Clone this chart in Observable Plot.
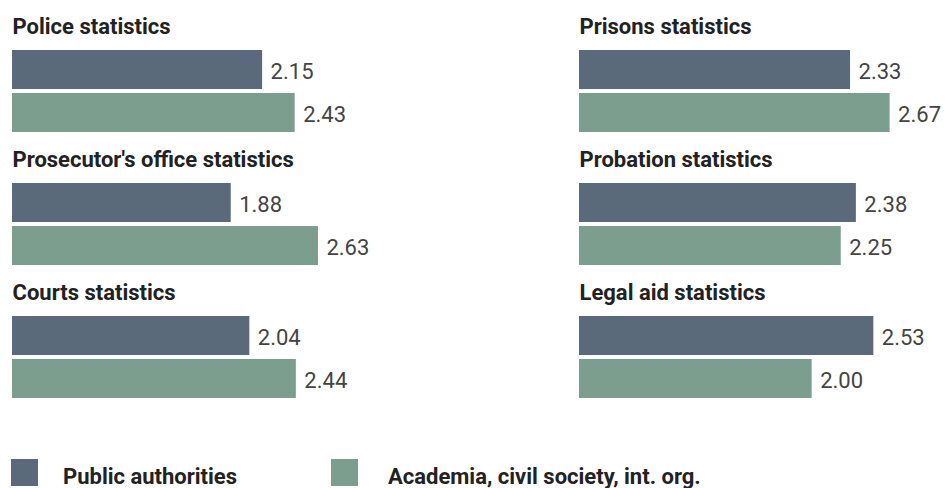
<!DOCTYPE html>
<html>
<head>
<meta charset="utf-8">
<script src="https://cdn.jsdelivr.net/npm/d3@7"></script>
<script src="https://cdn.jsdelivr.net/npm/@observablehq/plot@0.6"></script>
<style>
  html, body { margin: 0; padding: 0; background: #fff; overflow: hidden; }
  body { font-family: Roboto, "Noto Sans", sans-serif; }
  #legend { position: relative; height: 40px; margin-top: 59px; }
  .sw { position: absolute; top: 0; width: 27px; height: 27px; display: block; }
  .lab { position: absolute; top: 7px; font-weight: 700; font-size: 22px; line-height: 22px; color: #222; white-space: nowrap; }
</style>
</head>
<body>
<div id="chart"></div>
<div id="legend"></div>
<script>
const categories = ["Police statistics", "Prisons statistics", "Prosecutor's office statistics", "Probation statistics", "Courts statistics", "Legal aid statistics"];
const seriesNames = ["Public authorities", "Academia, civil society, int. org."];
const publicAuthorities = [2.15, 2.33, 1.88, 2.38, 2.04, 2.53];
const academia = [2.43, 2.67, 2.63, 2.25, 2.44, 2.00];
const colors = ["#5a6a7a", "#7b9e8f"];

const data = [];
categories.forEach((c, i) => {
  const col = i % 2, row = Math.floor(i / 2);
  data.push({cat: c, col, row, series: seriesNames[0], value: publicAuthorities[i]});
  data.push({cat: c, col, row, series: seriesNames[1], value: academia[i]});
});
const titles = categories.map((c, i) => ({cat: c, col: i % 2, row: Math.floor(i / 2)}));

const chart = Plot.plot({
  width: 946,
  height: 400,
  marginLeft: 11,
  marginRight: 17,
  marginTop: 49,
  marginBottom: 0,
  style: {fontFamily: "Roboto, sans-serif", background: "#fff"},
  fx: {axis: null, domain: [0, 1], paddingInner: 0.3838, paddingOuter: 0},
  fy: {axis: null, domain: [0, 1, 2], paddingInner: 0.368, paddingOuter: 0},
  x: {axis: null, domain: [0, 3]},
  y: {axis: null, domain: seriesNames, paddingInner: 0.0909, paddingOuter: 0},
  color: {domain: seriesNames, range: colors},
  marks: [
    Plot.barX(data, {x: "value", y: "series", fx: "col", fy: "row", fill: "series"}),
    Plot.text(data, {x: "value", y: "series", fx: "col", fy: "row", text: d => d.value.toFixed(2),
      textAnchor: "start", dx: 8, dy: 2, fontSize: 22, fill: "#444"}),
    Plot.text(titles, {fx: "col", fy: "row", text: "cat", frameAnchor: "top-left",
      textAnchor: "start", lineAnchor: "bottom", dy: -16, fontSize: 22, fontWeight: 700, fill: "#222"})
  ]
});
document.getElementById("chart").appendChild(chart);

const legend = document.getElementById("legend");
const swLeft = [11, 331], labLeft = [63, 388];
seriesNames.forEach((s, i) => {
  const sw = document.createElement("span");
  sw.className = "sw";
  sw.style.left = swLeft[i] + "px";
  sw.style.background = colors[i];
  const lab = document.createElement("span");
  lab.className = "lab";
  lab.style.left = labLeft[i] + "px";
  lab.textContent = s;
  legend.appendChild(sw);
  legend.appendChild(lab);
});
</script>
</body>
</html>
